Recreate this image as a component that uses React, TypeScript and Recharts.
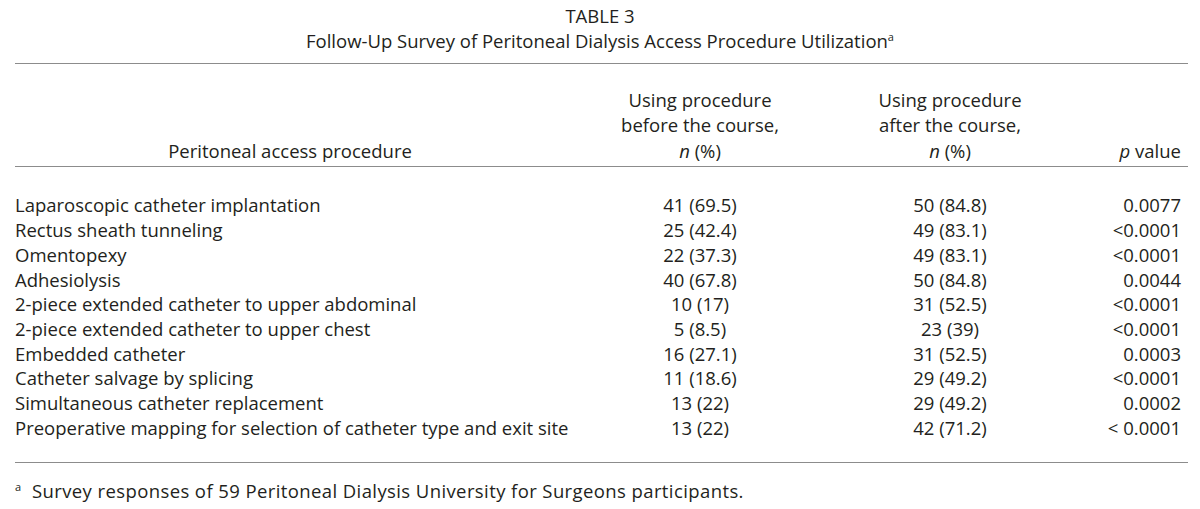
import { ScatterChart, Scatter, XAxis, YAxis } from "recharts";

const procedures = [
  "Laparoscopic catheter implantation",
  "Rectus sheath tunneling",
  "Omentopexy",
  "Adhesiolysis",
  "2-piece extended catheter to upper abdominal",
  "2-piece extended catheter to upper chest",
  "Embedded catheter",
  "Catheter salvage by splicing",
  "Simultaneous catheter replacement",
  "Preoperative mapping for selection of catheter type and exit site",
];

const beforeCourse = [
  "41 (69.5)",
  "25 (42.4)",
  "22 (37.3)",
  "40 (67.8)",
  "10 (17)",
  "5 (8.5)",
  "16 (27.1)",
  "11 (18.6)",
  "13 (22)",
  "13 (22)",
];

const afterCourse = [
  "50 (84.8)",
  "49 (83.1)",
  "49 (83.1)",
  "50 (84.8)",
  "31 (52.5)",
  "23 (39)",
  "31 (52.5)",
  "29 (49.2)",
  "29 (49.2)",
  "42 (71.2)",
];

const pValues = [
  "0.0077",
  "<0.0001",
  "<0.0001",
  "0.0044",
  "<0.0001",
  "<0.0001",
  "0.0003",
  "<0.0001",
  "0.0002",
  "< 0.0001",
];

// table layout: column anchors in pixel space of the hidden x axis
const W = 1200;
const H = 509;
const FONT = "'Open Sans', sans-serif";
const FS = 18.5;
const TEXT = "#231f20";
const RULE = "#8c8c8c";

const columns = [
  { key: "procedure", x: 15, anchor: "start", values: procedures },
  { key: "before", x: 700, anchor: "middle", values: beforeCourse },
  { key: "after", x: 950, anchor: "middle", values: afterCourse },
  { key: "p", x: 1181, anchor: "end", values: pValues },
];

const ROW_TOP = 192.6;
const ROW_BOTTOM = 439.6;

function cellShape(anchor: string) {
  return (props: any) => (
    <text
      x={props.cx}
      y={props.cy}
      textAnchor={anchor}
      dominantBaseline="central"
      fill={TEXT}
      fontSize={FS}
      fontFamily={FONT}
    >
      {props.payload.label}
    </text>
  );
}

function Rule({ top }: { top: number }) {
  return (
    <div
      style={{
        position: "absolute",
        left: 15,
        width: 1173,
        top,
        height: 0,
        borderTop: `1.5px solid ${RULE}`,
      }}
    />
  );
}

function Line({ top, x, anchor, children, spacing }: any) {
  const shift = anchor === "middle" ? "-50%" : anchor === "end" ? "-100%" : "0";
  return (
    <div
      style={{
        position: "absolute",
        top: top - 12,
        left: x,
        transform: `translateX(${shift})`,
        whiteSpace: "nowrap",
        lineHeight: "24px",
        fontSize: FS,
        letterSpacing: spacing ?? 0,
      }}
    >
      {children}
    </div>
  );
}

export default function App() {
  return (
    <div
      style={{
        position: "absolute",
        left: 0,
        top: 0,
        width: W,
        height: H,
        background: "#fff",
        fontFamily: FONT,
        color: TEXT,
      }}
    >
      <Line top={16} x={600} anchor="middle">TABLE 3</Line>
      <Line top={41} x={600} anchor="middle">
        Follow-Up Survey of Peritoneal Dialysis Access Procedure Utilization
        <sup style={{ fontSize: 11, lineHeight: 0 }}>a</sup>
      </Line>
      <Rule top={63} />

      <Line top={151} x={290} anchor="middle">Peritoneal access procedure</Line>
      <Line top={100} x={700} anchor="middle">Using procedure</Line>
      <Line top={125} x={700} anchor="middle">before the course,</Line>
      <Line top={151} x={700} anchor="middle"><i>n</i> (%)</Line>
      <Line top={100} x={950} anchor="middle">Using procedure</Line>
      <Line top={125} x={950} anchor="middle">after the course,</Line>
      <Line top={151} x={950} anchor="middle"><i>n</i> (%)</Line>
      <Line top={151} x={1181} anchor="end"><i>p</i> value</Line>
      <Rule top={166} />

      <div style={{ position: "absolute", left: 0, top: 0 }}>
        <ScatterChart
          width={W}
          height={H}
          margin={{ top: ROW_TOP, bottom: H - ROW_BOTTOM, left: 0, right: 0 }}
        >
          <XAxis type="number" dataKey="x" domain={[0, W]} hide />
          <YAxis type="category" dataKey="row" reversed hide allowDuplicatedCategory={false} />
          {columns.map((c) => (
            <Scatter
              key={c.key}
              data={c.values.map((v, i) => ({ x: c.x, row: procedures[i], label: v }))}
              shape={cellShape(c.anchor)}
              isAnimationActive={false}
            />
          ))}
        </ScatterChart>
      </div>

      <Rule top={462} />
      <Line top={491} x={15} anchor="start" spacing={0.4}>
        <sup style={{ fontSize: 11, lineHeight: 0 }}>a</sup>&nbsp; Survey responses of 59 Peritoneal Dialysis University for Surgeons participants.
      </Line>
    </div>
  );
}
